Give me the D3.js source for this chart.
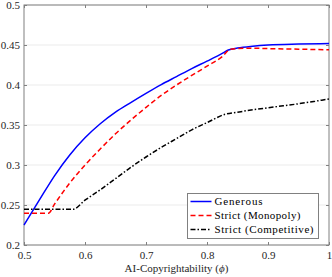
<!DOCTYPE html>
<html>
<head>
<meta charset="utf-8">
<script src="https://cdn.jsdelivr.net/npm/d3@7"></script>
<style>
  body { margin: 0; background: #fff; }
  svg text { font-family: "Liberation Serif", "Times New Roman", serif; }
</style>
</head>
<body>
<div id="chart"></div>
<script>
// data
var phiGen = [0.5, 0.525, 0.55, 0.575, 0.6, 0.625, 0.65, 0.675, 0.7, 0.725, 0.75, 0.775, 0.8, 0.825, 0.835, 0.85, 0.875, 0.9, 0.95, 1.0];
var generous = [0.225, 0.256, 0.2865, 0.3125, 0.334, 0.3515, 0.366, 0.378, 0.3895, 0.4005, 0.4105, 0.4205, 0.4298, 0.4395, 0.4438, 0.4462, 0.4485, 0.45, 0.4512, 0.4518];

var phiMono = [0.5, 0.54, 0.55, 0.575, 0.6, 0.625, 0.65, 0.675, 0.7, 0.725, 0.75, 0.775, 0.8, 0.825, 0.838, 0.85, 0.875, 0.9, 0.95, 1.0];
var monopoly = [0.2396, 0.2396, 0.251, 0.2775, 0.3, 0.32, 0.339, 0.356, 0.372, 0.387, 0.4, 0.412, 0.4235, 0.4355, 0.4445, 0.4455, 0.446, 0.4455, 0.4448, 0.444];

var phiComp = [0.5, 0.58, 0.6, 0.625, 0.65, 0.675, 0.7, 0.725, 0.75, 0.775, 0.8, 0.83, 0.85, 0.875, 0.9, 0.925, 0.95, 0.975, 1.0];
var competitive = [0.2446, 0.2446, 0.256, 0.269, 0.283, 0.297, 0.31, 0.322, 0.333, 0.344, 0.353, 0.3635, 0.366, 0.369, 0.3715, 0.374, 0.3765, 0.3795, 0.3825];

var xTicks = [0.5, 0.6, 0.7, 0.8, 0.9, 1];
var yTicks = [0.2, 0.25, 0.3, 0.35, 0.4, 0.45, 0.5];
var seriesNames = ["Generous", "Strict (Monopoly)", "Strict (Competitive)"];

var width = 332, height = 277;
var margins = { top: 5, right: 3, bottom: 32, left: 24 };
var serif = "'Liberation Serif', 'Times New Roman', serif";

var svg = d3.select("#chart").append("svg")
  .attr("width", width)
  .attr("height", height);

var x = d3.scaleLinear().domain([0.5, 1]).range([margins.left, width - margins.right]);
var y = d3.scaleLinear().domain([0.2, 0.5]).range([height - margins.bottom, margins.top]);

// horizontal grid
svg.append("g")
  .selectAll("line")
  .data(yTicks)
  .enter().append("line")
  .attr("x1", x(0.5)).attr("x2", x(1))
  .attr("y1", d => y(d)).attr("y2", d => y(d))
  .attr("stroke", "#ebebeb")
  .attr("stroke-width", 1);

// axes
var fmt = d => String(d);
var xAxis = svg.append("g")
  .attr("transform", `translate(0,${y(0.2)})`)
  .call(d3.axisBottom(x).tickValues(xTicks).tickFormat(fmt).tickSizeInner(-3).tickSizeOuter(0).tickPadding(6));
var xTop = svg.append("g")
  .attr("transform", `translate(0,${y(0.5)})`)
  .call(d3.axisTop(x).tickValues(xTicks).tickFormat("").tickSizeInner(-3).tickSizeOuter(0));
var yAxis = svg.append("g")
  .attr("transform", `translate(${x(0.5)},0)`)
  .call(d3.axisLeft(y).tickValues(yTicks).tickFormat(fmt).tickSizeInner(-3).tickSizeOuter(0).tickPadding(4));
var yRight = svg.append("g")
  .attr("transform", `translate(${x(1)},0)`)
  .call(d3.axisRight(y).tickValues(yTicks).tickFormat("").tickSizeInner(-3).tickSizeOuter(0));

[xAxis, xTop, yAxis, yRight].forEach(function(g) {
  g.attr("font-family", null);
  g.selectAll(".domain").remove();
  g.selectAll("line").attr("stroke", "#808080");
  g.selectAll("text").attr("fill", "#262626").style("font-size", "11px")
    .style("font-family", serif);
});

// box
svg.append("rect")
  .attr("x", x(0.5)).attr("y", y(0.5))
  .attr("width", x(1) - x(0.5)).attr("height", y(0.2) - y(0.5))
  .attr("fill", "none")
  .attr("stroke", "#808080")
  .attr("stroke-width", 1);

// lines
var series = [
  { phi: phiGen, vals: generous, color: "#0000ff", dash: null },
  { phi: phiMono, vals: monopoly, color: "#ff0000", dash: "5,3" },
  { phi: phiComp, vals: competitive, color: "#000000", dash: "5,2,1.5,2" }
];
var line = d3.line()
  .x(d => x(d[0]))
  .y(d => y(d[1]))
  .curve(d3.curveMonotoneX);

svg.append("g").selectAll("path")
  .data(series)
  .enter().append("path")
  .attr("d", s => line(s.phi.map((p, i) => [p, s.vals[i]])))
  .attr("fill", "none")
  .attr("stroke", s => s.color)
  .attr("stroke-width", 1.5)
  .attr("stroke-dasharray", s => s.dash);

// x label
var xl = svg.append("text")
  .attr("x", (x(0.5) + x(1)) / 2)
  .attr("y", 272)
  .attr("text-anchor", "middle")
  .attr("fill", "#262626")
  .style("font-family", serif)
  .style("font-size", "11px");
xl.append("tspan").text("AI-Copyrightability (");
xl.append("tspan").style("font-style", "italic").text("\u03d5");
xl.append("tspan").text(")");

// legend
var lg = svg.append("g").attr("transform", "translate(187.5,193.5)");
lg.append("rect")
  .attr("width", 131).attr("height", 45)
  .attr("fill", "#fff")
  .attr("stroke", "#808080")
  .attr("stroke-width", 1);
var items = lg.selectAll("g.item")
  .data(series)
  .enter().append("g")
  .attr("transform", (d, i) => `translate(0,${8 + i * 14})`);
items.append("line")
  .attr("x1", 3).attr("x2", 24)
  .attr("stroke", d => d.color)
  .attr("stroke-width", 1.5)
  .attr("stroke-dasharray", d => d.dash);
items.append("text")
  .attr("x", 27).attr("y", 3.5)
  .attr("fill", "#000")
  .style("font-family", serif)
  .style("font-size", "11px")
  .attr("textLength", (d, i) => [48, 86, 99][i])
  .text((d, i) => seriesNames[i]);
</script>
</body>
</html>
